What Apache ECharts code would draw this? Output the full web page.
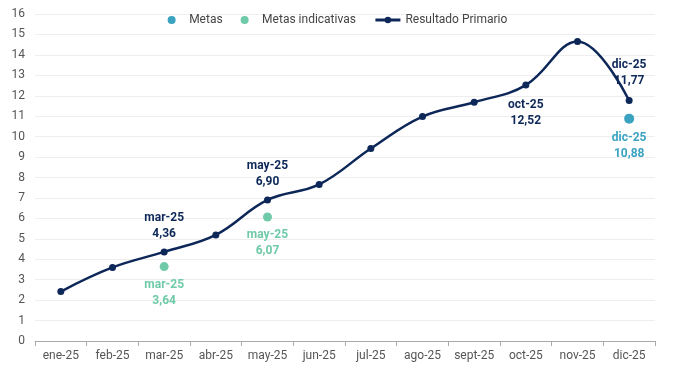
<!DOCTYPE html>
<html><head><meta charset="utf-8">
<script src="https://cdn.jsdelivr.net/npm/echarts@6/dist/echarts.min.js"></script>
<style>html,body{margin:0;padding:0;background:#fff}#c{width:675px;height:368px}</style>
</head><body><div id="c"></div>
<script>
const categories = ['ene-25','feb-25','mar-25','abr-25','may-25','jun-25','jul-25','ago-25','sept-25','oct-25','nov-25','dic-25'];
const resultado = [2.42, 3.60, 4.36, 5.19, 6.90, 7.66, 9.42, 10.98, 11.68, 12.52, 14.66, 11.77];
const metas = [null, null, null, null, null, null, null, null, null, null, null, 10.88];
const metasIndicativas = [null, null, 3.64, null, 6.07, null, null, null, null, null, null, null];
const resultadoLabelIdx = {2:'top', 4:'top', 9:'bottom', 11:'top'};
const yTicks = {min:0, max:16, interval:1};

const NAVY = '#0c2758', BLUE = '#3aa3c2', GREEN = '#6fcaa9';
const fmt = p => p.name + '\n' + p.value.toFixed(2).replace('.', ',');
const font = 'Roboto';

const resData = resultado.map((v,i) => {
  const pos = resultadoLabelIdx[i];
  if (!pos) return v;
  const lab = {show:true, position:pos, formatter:fmt};
  if (i === 9) { lab.offset = [0, 2]; }
  if (i === 11) { lab.offset = [0, -2]; }
  return {value:v, label:lab};
});

const chart = echarts.init(document.getElementById('c'), null, {renderer:'canvas'});
chart.setOption({
  animation:false,
  textStyle:{fontFamily:font},
  grid:{left:35, right:20, top:14, bottom:27, containLabel:false},
  legend:{
    top:9, left:'center', itemGap:18, itemWidth:25, itemHeight:8,
    textStyle:{fontFamily:font, fontSize:12, color:'#444'},
    data:[
      {name:'Metas', icon:'circle', itemStyle:{color:BLUE}},
      {name:'Metas indicativas', icon:'circle', itemStyle:{color:GREEN}},
      {name:'Resultado Primario', lineStyle:{width:3}}
    ]
  },
  xAxis:{
    type:'category', data:categories, boundaryGap:true,
    axisLine:{lineStyle:{color:'#aaa'}},
    axisTick:{show:true, lineStyle:{color:'#aaa'}},
    axisLabel:{color:'#555', fontSize:12, fontFamily:font, margin:9, interval:0}
  },
  yAxis:{
    type:'value', min:yTicks.min, max:yTicks.max, interval:yTicks.interval,
    axisLine:{show:false}, axisTick:{show:false},
    axisLabel:{color:'#555', fontSize:12, fontFamily:font, margin:10},
    splitLine:{lineStyle:{color:'#eeeeee'}}
  },
  series:[
    {name:'Metas', type:'line', data:metas, symbol:'circle', symbolSize:10,
     lineStyle:{opacity:0}, itemStyle:{color:BLUE},
     label:{show:true, position:'bottom', formatter:fmt, color:BLUE, fontWeight:'bold', fontSize:12, lineHeight:16, fontFamily:font, distance:6}, z:3},
    {name:'Metas indicativas', type:'line', data:metasIndicativas, symbol:'circle', symbolSize:9,
     lineStyle:{opacity:0}, itemStyle:{color:GREEN},
     label:{show:true, position:'bottom', formatter:fmt, color:GREEN, fontWeight:'bold', fontSize:12, lineHeight:16, fontFamily:font, distance:6}, z:3},
    {name:'Resultado Primario', type:'line', data:resData, smooth:0.4, symbol:'circle', symbolSize:7,
     lineStyle:{color:NAVY, width:2.5}, itemStyle:{color:NAVY},
     label:{show:false, color:NAVY, fontWeight:'bold', fontSize:12, lineHeight:16, fontFamily:font, distance:6}, z:4}
  ]
});
</script></body></html>
